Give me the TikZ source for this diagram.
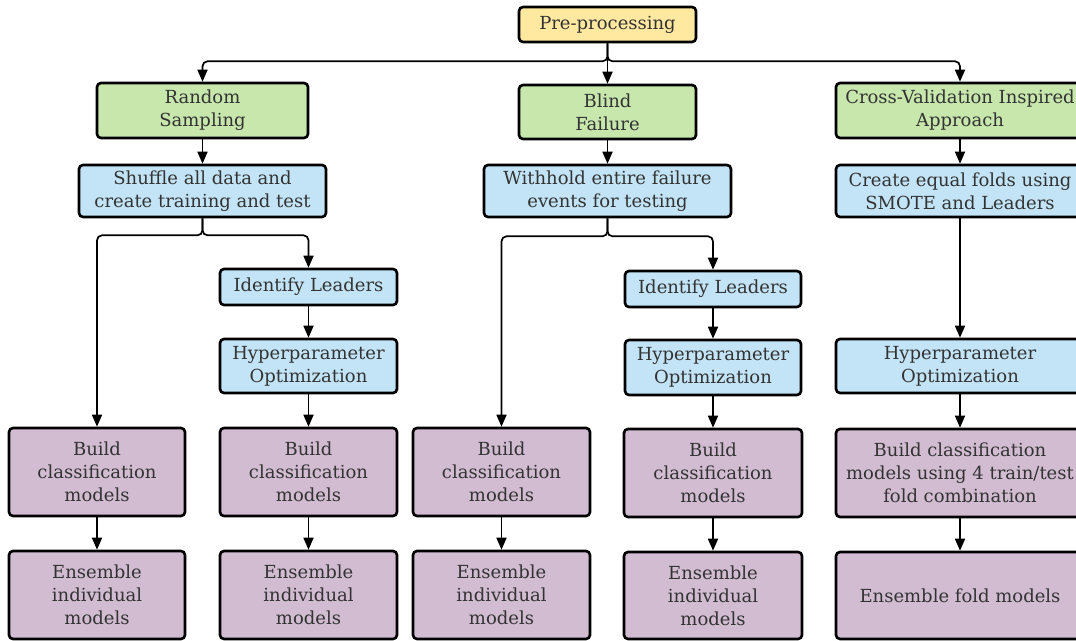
\documentclass[tikz,border=0pt]{standalone}
\usepackage{fontspec}
\setmainfont{DejaVu Serif}
\usetikzlibrary{arrows.meta}
\definecolor{txt}{HTML}{333333}
\definecolor{fyel}{HTML}{FFE8A0}
\definecolor{fgrn}{HTML}{C7E7AC}
\definecolor{fblu}{HTML}{C2E4F6}
\definecolor{fpur}{HTML}{D2BCD2}
\tikzset{
  box/.style={draw=black, line width=2.6pt, rounded corners=4pt, align=center,
    text=txt, font=\fontsize{18}{23}\selectfont, inner sep=0pt},
  yel/.style={box, fill=fyel},
  grn/.style={box, fill=fgrn},
  blu/.style={box, fill=fblu},
  pur/.style={box, fill=fpur},
  conn/.style={line width=1.7pt, rounded corners=5pt},
  arr/.style={conn, -{Triangle[length=12pt,width=10pt]}},
}
\begin{document}
\begin{tikzpicture}[x=1pt,y=-1pt]
\useasboundingbox (0,0) rectangle (1076,640);
\clip (0,0) rectangle (1076,640);
% boxes
\node[yel, minimum width=177, minimum height=35] (pre) at (607.5,24.5) {Pre-processing};
\node[grn, minimum width=211, minimum height=55] (rs) at (202.5,110.5) {Random\\Sampling};
\node[grn, minimum width=177, minimum height=54] (bf) at (607.5,112) {Blind\\Failure};
\node[grn, minimum width=248, minimum height=55] (cv) at (960,110.5) {Cross-Validation Inspired\\Approach};
\node[blu, minimum width=247, minimum height=52] (sh) at (202.5,191) {Shuffle all data and\\create training and test};
\node[blu, minimum width=247, minimum height=52] (wh) at (607.5,191) {Withhold entire failure\\events for testing};
\node[blu, minimum width=248, minimum height=52] (cf) at (960,191) {Create equal folds using\\SMOTE and Leaders};
\node[blu, minimum width=177, minimum height=36] (il1) at (308.5,287) {Identify Leaders};
\node[blu, minimum width=177, minimum height=54] (hp1) at (308.5,366) {Hyperparameter\\Optimization};
\node[blu, minimum width=176, minimum height=36] (il2) at (713,289) {Identify Leaders};
\node[blu, minimum width=176, minimum height=55] (hp2) at (713,367.5) {Hyperparameter\\Optimization};
\node[blu, minimum width=248, minimum height=54] (hp3) at (960,366) {Hyperparameter\\Optimization};
\node[pur, minimum width=176, minimum height=88] (b1a) at (97,472) {Build\\classification\\models};
\node[pur, minimum width=177, minimum height=88] (b1b) at (308.5,472) {Build\\classification\\models};
\node[pur, minimum width=177, minimum height=88] (b2a) at (501.5,472) {Build\\classification\\models};
\node[pur, minimum width=178, minimum height=88] (b2b) at (713,473) {Build\\classification\\models};
\node[pur, minimum width=248, minimum height=88] (b3) at (960,473) {Build classification\\models using 4 train/test\\fold combination};
\node[pur, minimum width=176, minimum height=88] (e1a) at (97,595) {Ensemble\\individual\\models};
\node[pur, minimum width=177, minimum height=88] (e1b) at (308.5,595) {Ensemble\\individual\\models};
\node[pur, minimum width=177, minimum height=88] (e2a) at (501.5,595) {Ensemble\\individual\\models};
\node[pur, minimum width=178, minimum height=87] (e2b) at (713,595.5) {Ensemble\\individual\\models};
\node[pur, minimum width=248, minimum height=87] (e3) at (960,595.5) {Ensemble fold models};
% top connectors
\draw[arr] (pre.south) -- (bf.north);
\draw[arr] (pre.south) -- ++(0,18) -| (rs.north);
\draw[arr] (pre.south) -- ++(0,18) -| (cv.north);
\draw[arr] (rs) -- (sh);
\draw[arr] (bf) -- (wh);
\draw[arr] (cv) -- (cf);
% column 1
\draw[arr] (sh.south) -- ++(0,17) -| (b1a.north);
\draw[arr] (sh.south) -- ++(0,17) -| (il1.north);
\draw[arr] (il1) -- (hp1);
\draw[arr] (hp1) -- (b1b);
\draw[arr] (b1a) -- (e1a);
\draw[arr] (b1b) -- (e1b);
% column 2
\draw[arr] (wh.south) -- ++(0,18) -| (b2a.north);
\draw[arr] (wh.south) -- ++(0,18) -| (il2.north);
\draw[arr] (il2) -- (hp2);
\draw[arr] (hp2) -- (b2b);
\draw[arr] (b2a) -- (e2a);
\draw[arr] (b2b) -- (e2b);
% column 3
\draw[arr] (cf) -- (hp3);
\draw[arr] (hp3) -- (b3);
\draw[arr] (b3) -- (e3);
\end{tikzpicture}
\end{document}
